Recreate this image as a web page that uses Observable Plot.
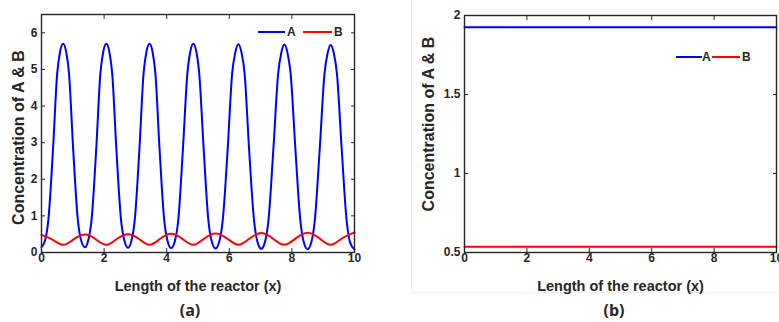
<!DOCTYPE html>
<html>
<head>
<meta charset="utf-8">
<script src="https://cdn.jsdelivr.net/npm/d3@7"></script>
<script src="https://cdn.jsdelivr.net/npm/@observablehq/plot@0.6"></script>
<style>
  html, body { margin: 0; padding: 0; background: #fff; }
  body { width: 779px; height: 322px; overflow: hidden; position: relative; font-family: "Liberation Sans", Arial, sans-serif; color: #262626; }
  .abs { position: absolute; }
  .lg-line { position: absolute; height: 2px; }
  .lg-text { position: absolute; font-weight: bold; font-size: 12px; line-height: 12px; color: #262626; }
  .cap { position: absolute; font-weight: bold; font-size: 16px; line-height: 18px; color: #262626; transform: translateX(-50%); font-family: "Open Sans", "Liberation Sans", sans-serif; }
</style>
</head>
<body>
<div class="abs" style="left:411px;top:0;width:370px;height:292px;border-left:1px solid #eeeeee;border-bottom:1px solid #eeeeee;"></div>
<div id="a" class="abs" style="left:0;top:0"></div>
<div id="b" class="abs" style="left:379px;top:0"></div>
<div id="legends"></div>
<div class="cap" style="left:190px;top:301px">(a)</div>
<div class="cap" style="left:614px;top:301px">(b)</div>
<script>
// ---- Panel (a) data: oscillating concentrations ----
const xA = [0.00, 0.11, 0.22, 0.37, 0.50, 0.59, 0.69, 0.79, 0.88, 1.01, 1.16, 1.27, 1.39,
            1.49, 1.60, 1.75, 1.88, 1.97, 2.07, 2.17, 2.26, 2.39, 2.54, 2.65, 2.76,
            2.87, 2.98, 3.13, 3.26, 3.35, 3.45, 3.55, 3.64, 3.77, 3.92, 4.03, 4.14,
            4.26, 4.37, 4.52, 4.66, 4.75, 4.85, 4.95, 5.04, 5.18, 5.33, 5.44, 5.56,
            5.68, 5.79, 5.95, 6.09, 6.19, 6.29, 6.39, 6.49, 6.63, 6.79, 6.90, 7.02,
            7.14, 7.25, 7.41, 7.56, 7.66, 7.76, 7.86, 7.96, 8.11, 8.27, 8.38, 8.50,
            8.62, 8.73, 8.89, 9.04, 9.14, 9.24, 9.34, 9.44, 9.59, 9.75, 9.86, 10.00];
const valA = [0.15, 0.32, 0.90, 2.85, 4.88, 5.47, 5.70, 5.47, 4.88, 2.85, 0.90, 0.32, 0.14,
              0.32, 0.90, 2.85, 4.88, 5.47, 5.70, 5.47, 4.88, 2.85, 0.90, 0.32, 0.13,
              0.31, 0.89, 2.85, 4.88, 5.47, 5.70, 5.47, 4.88, 2.85, 0.89, 0.31, 0.12,
              0.31, 0.89, 2.85, 4.88, 5.47, 5.70, 5.47, 4.88, 2.85, 0.89, 0.30, 0.11,
              0.30, 0.88, 2.85, 4.88, 5.46, 5.69, 5.46, 4.88, 2.85, 0.88, 0.29, 0.10,
              0.29, 0.87, 2.85, 4.88, 5.45, 5.68, 5.45, 4.88, 2.85, 0.87, 0.28, 0.09,
              0.28, 0.86, 2.84, 4.87, 5.44, 5.67, 5.44, 4.87, 2.84, 0.86, 0.27, 0.08];
const xB = [0.00, 0.37, 0.69, 1.01, 1.39, 1.75, 2.07, 2.39, 2.76, 3.13, 3.45, 3.77, 4.14,
            4.52, 4.85, 5.18, 5.56, 5.95, 6.29, 6.63, 7.02, 7.41, 7.76, 8.11, 8.50,
            8.89, 9.24, 9.59, 10.00];
const valB = [0.48, 0.34, 0.21, 0.35, 0.49, 0.35, 0.21, 0.36, 0.50, 0.36, 0.21, 0.36, 0.51,
              0.36, 0.21, 0.37, 0.52, 0.37, 0.21, 0.37, 0.53, 0.37, 0.21, 0.38, 0.54,
              0.38, 0.21, 0.38, 0.55];

// ---- Panel (b) data: steady state ----
const xSteady = [0, 10];
const valSteadyA = [1.925, 1.925];
const valSteadyB = [0.536, 0.536];

// ---- Axes / labels ----
const xTicks = [0, 2, 4, 6, 8, 10];
const yTicksA = [0, 1, 2, 3, 4, 5, 6];
const yTicksB = [0.5, 1, 1.5, 2];
const yTickLabelsB = ["0.5", "1", "1.5", "2"];
const xLabel = "Length of the reactor (x)";
const yLabel = "Concentration of A & B";
const seriesNames = ["A", "B"];
const seriesColors = ["#0000ff", "#ff0000"];

const dataA1 = xA.map((x, i) => ({x, v: valA[i]}));
const dataB1 = xB.map((x, i) => ({x, v: valB[i]}));
const dataA2 = xSteady.map((x, i) => ({x, v: valSteadyA[i]}));
const dataB2 = xSteady.map((x, i) => ({x, v: valSteadyB[i]}));

const ink = "#262626";
const style = {fontFamily: '"Liberation Sans", Arial, sans-serif', fontWeight: "bold", fontSize: "12px", color: ink, background: "transparent", overflow: "visible"};
const blank = () => "";

function frameMarks(yTicks, yFormat, yLabelOffset) {
  return [
    // tick labels
    Plot.axisX(xTicks, {anchor: "bottom", tickSize: 0, tickPadding: 1, label: null, fontWeight: "bold", fontSize: 12}),
    Plot.axisY(yTicks, {anchor: "left", tickSize: 0, tickPadding: 4, tickFormat: yFormat, label: null, fontWeight: "bold", fontSize: 12}),
    // axis titles
    Plot.axisX(xTicks, {anchor: "bottom", tickSize: 0, tickFormat: blank, label: xLabel, labelArrow: "none", labelAnchor: "center", labelOffset: 38, fontWeight: "bold", fontSize: 14.5}),
    Plot.axisY(yTicks, {anchor: "left", tickSize: 0, tickFormat: blank, label: yLabel, labelArrow: "none", labelAnchor: "center", labelOffset: yLabelOffset, fontWeight: "bold", fontSize: 16}),
    // inward ticks on all four sides
    Plot.axisX(xTicks, {anchor: "bottom", tickSize: -4, tickFormat: blank, label: null}),
    Plot.axisX(xTicks, {anchor: "top", tickSize: -4, tickFormat: blank, label: null}),
    Plot.axisY(yTicks, {anchor: "left", tickSize: -4, tickFormat: blank, label: null}),
    Plot.axisY(yTicks, {anchor: "right", tickSize: -4, tickFormat: blank, label: null}),
    Plot.frame({stroke: ink, strokeWidth: 1.4})
  ];
}

// post-render tweaks: tick-label font size and vertical position of the y title
function polish(svg, tickTexts, dy) {
  svg.querySelectorAll("text").forEach(t => {
    const s = t.textContent;
    if (s === yLabel) {
      const tr = t.getAttribute("transform") || "";
      t.setAttribute("transform", `translate(0,${dy}) ` + tr);
      t.style.fontSize = "16px";
    } else if (s === xLabel) {
      t.style.fontSize = "14.5px";
    } else if (tickTexts.includes(s)) {
      t.style.fontSize = "12px";
      t.style.fontWeight = "bold";
    }
  });
}

const plotA = Plot.plot({
  width: 370, height: 300,
  marginLeft: 41, marginRight: 16, marginTop: 14, marginBottom: 48,
  x: {domain: [0, 10]},
  y: {domain: [0, 6.5]},
  style,
  marks: [
    Plot.line(dataA1, {x: "x", y: "v", stroke: seriesColors[0], strokeWidth: 2, curve: "monotone-x"}),
    Plot.line(dataB1, {x: "x", y: "v", stroke: seriesColors[1], strokeWidth: 2, curve: "natural"}),
    ...frameMarks(yTicksA, d => String(d), 29)
  ]
});
polish(plotA, [...xTicks, ...yTicksA].map(String), 4);
document.getElementById("a").appendChild(plotA);

const plotB = Plot.plot({
  width: 400, height: 300,
  marginLeft: 85, marginRight: 3, marginTop: 15, marginBottom: 48,
  x: {domain: [0, 10]},
  y: {domain: [0.5, 2]},
  style,
  marks: [
    Plot.line(dataA2, {x: "x", y: "v", stroke: seriesColors[0], strokeWidth: 2}),
    Plot.line(dataB2, {x: "x", y: "v", stroke: seriesColors[1], strokeWidth: 2}),
    ...frameMarks(yTicksB, d => yTickLabelsB[yTicksB.indexOf(d)], 42)
  ]
});
polish(plotB, [...xTicks.map(String), ...yTickLabelsB], -10);
document.getElementById("b").appendChild(plotB);

// ---- Legends (HTML, positioned inside each panel) ----
function legend(spec) {
  const host = document.getElementById("legends");
  spec.forEach((s, i) => {
    const ln = document.createElement("div");
    ln.className = "lg-line";
    ln.style.left = s.lineX + "px";
    ln.style.width = s.lineW + "px";
    ln.style.top = (s.y - 1) + "px";
    ln.style.background = seriesColors[i];
    host.appendChild(ln);
    const tx = document.createElement("div");
    tx.className = "lg-text";
    tx.textContent = seriesNames[i];
    tx.style.left = s.textX + "px";
    tx.style.top = (s.y - 6) + "px";
    host.appendChild(tx);
  });
}
legend([{lineX: 258, lineW: 27, textX: 287, y: 32}, {lineX: 303, lineW: 29, textX: 334, y: 32}]);
legend([{lineX: 676, lineW: 26, textX: 702, y: 57}, {lineX: 712, lineW: 28, textX: 742, y: 57}]);
</script>
</body>
</html>
